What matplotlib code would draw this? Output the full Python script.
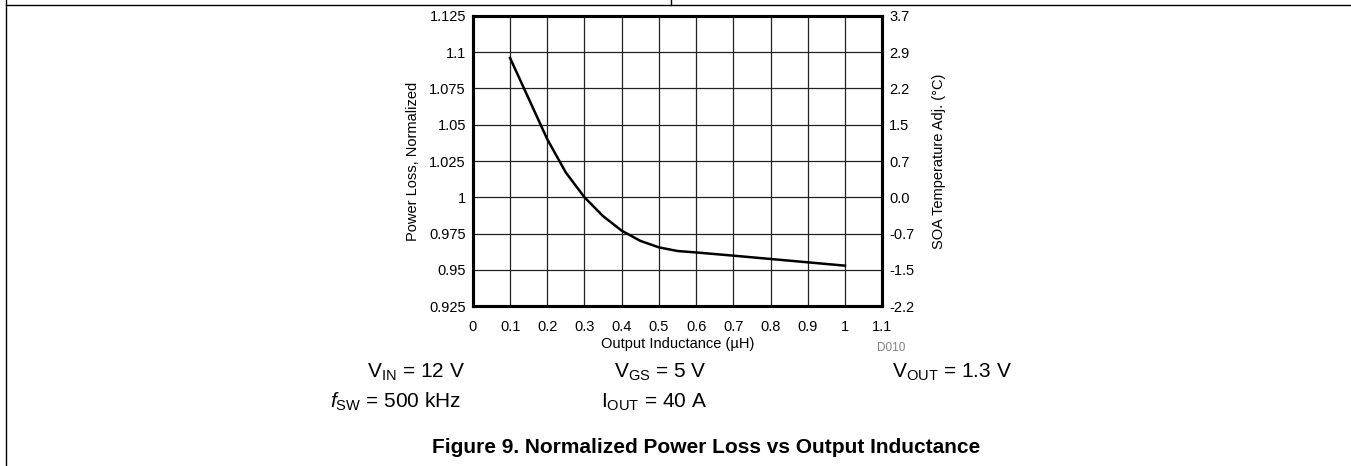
import matplotlib
matplotlib.use('Agg')
import matplotlib.pyplot as plt
from matplotlib.lines import Line2D

plt.rcParams['font.family'] = ['Liberation Sans', 'DejaVu Sans']
plt.rcParams['mathtext.fontset'] = 'custom'
plt.rcParams['mathtext.rm'] = 'Liberation Sans'
plt.rcParams['mathtext.it'] = 'Liberation Sans:italic'

# curve
inductance = [0.1, 0.15, 0.2, 0.25, 0.3, 0.35, 0.4, 0.45, 0.5, 0.55, 0.6, 0.7, 0.8, 0.9, 1.0]
power_loss = [1.096, 1.068, 1.040, 1.017, 1.000, 0.987, 0.977, 0.970, 0.9655, 0.963,
              0.962, 0.9598, 0.9575, 0.9552, 0.9529]

x_ticks = [0, 0.1, 0.2, 0.3, 0.4, 0.5, 0.6, 0.7, 0.8, 0.9, 1, 1.1]
x_labels = ['0', '0.1', '0.2', '0.3', '0.4', '0.5', '0.6', '0.7', '0.8', '0.9', '1', '1.1']
y_ticks = [0.925, 0.95, 0.975, 1.0, 1.025, 1.05, 1.075, 1.1, 1.125]
y_labels = ['0.925', '0.95', '0.975', '1', '1.025', '1.05', '1.075', '1.1', '1.125']
soa_labels = ['-2.2', '-1.5', '-0.7', '0.0', '0.7', '1.5', '2.2', '2.9', '3.7']


def main():
    fig = plt.figure(figsize=(13.51, 4.66), dpi=100)
    ax = fig.add_axes([0.350, 0.343, 0.303, 0.623])

    ax.plot(inductance, power_loss, color='black', lw=1.8, zorder=3)
    ax.set_xlim(0, 1.1)
    ax.set_ylim(0.925, 1.125)
    ax.set_xticks(x_ticks)
    ax.set_xticklabels(x_labels)
    ax.set_yticks(y_ticks)
    ax.set_yticklabels(y_labels)
    ax.grid(True, color='#222222', lw=0.9)
    ax.tick_params(length=0, labelsize=10.5, pad=5)
    ax.tick_params(axis='x', pad=10)
    for s in ax.spines.values():
        s.set_linewidth(2.2)
    ax.set_xlabel('Output Inductance (µH)', fontsize=10.5, labelpad=2)
    ax.set_ylabel('Power Loss, Normalized', fontsize=10.5, labelpad=7)

    # right axis, SOA temperature adjustment
    ax2 = ax.twinx()
    ax2.set_ylim(0.925, 1.125)
    ax2.set_yticks(y_ticks)
    ax2.set_yticklabels(soa_labels)
    ax2.tick_params(length=0, labelsize=10.5, pad=5)
    for s in ax2.spines.values():
        s.set_linewidth(2.2)
    ax2.set_ylabel('SOA Temperature Adj. (°C)', fontsize=10.5, labelpad=13)

    fig.text(0.6595, 0.253, 'D010', fontsize=8.5, color='gray', ha='center', va='center')

    # test conditions
    kw = dict(fontsize=15, va='center', ha='center')
    fig.text(0.308, 0.201, r'V$_{\mathrm{IN}}$ = 12 V', **kw)
    fig.text(0.293, 0.137, r'$\mathit{f}_{\mathrm{SW}}$ = 500 kHz', **kw)
    fig.text(0.4885, 0.201, r'V$_{\mathrm{GS}}$ = 5 V', **kw)
    fig.text(0.484, 0.137, r'I$_{\mathrm{OUT}}$ = 40 A', **kw)
    fig.text(0.705, 0.201, r'V$_{\mathrm{OUT}}$ = 1.3 V', **kw)

    fig.text(0.523, 0.040, 'Figure 9. Normalized Power Loss vs Output Inductance',
             fontsize=15, fontweight='bold', ha='center', va='center')

    # page frame lines
    fig.add_artist(Line2D([0.0045, 1], [0.989, 0.989], color='black', lw=1))
    fig.add_artist(Line2D([0.0048, 0.0048], [0, 1], color='black', lw=1))
    fig.add_artist(Line2D([0.497, 0.497], [0.989, 1], color='black', lw=1))

    fig.savefig('out.png', dpi=100)


if __name__ == "__main__":
    main()
